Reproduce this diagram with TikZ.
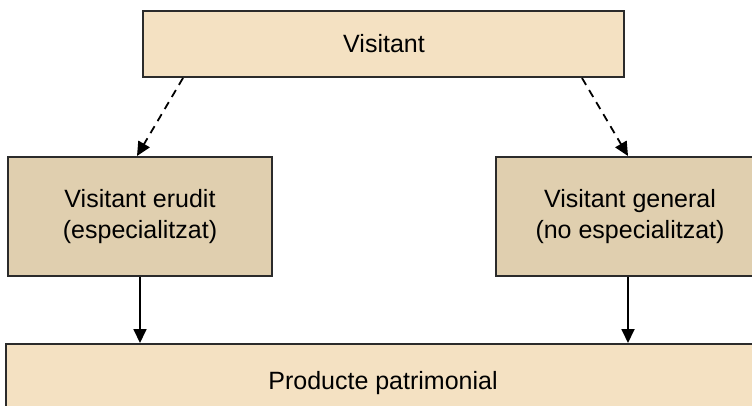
\documentclass[tikz,border=0pt]{standalone}
\usepackage{fontspec}
\setmainfont{Liberation Sans}
\usetikzlibrary{arrows.meta}
\definecolor{lightsand}{HTML}{F4E1C2}
\definecolor{darksand}{HTML}{E0CFAF}
\definecolor{edge}{HTML}{2B2B2B}
\tikzset{
  box/.style={draw=edge, line width=2.2pt, inner sep=0pt, outer sep=0pt},
  lbl/.style={font=\fontsize{25}{31}\selectfont, align=center, text=black},
  link/.style={line width=1.8pt, draw=black, -{Triangle[length=14pt,width=13pt]}},
  dlink/.style={link, dash pattern=on 8pt off 6pt},
}
\begin{document}
\begin{tikzpicture}[x=1pt,y=-1pt]
\useasboundingbox (0,0) rectangle (752,405);
\clip (0,0) rectangle (752,405);
% boxes
\draw[box, fill=lightsand] (143,11) rectangle (624,77);
\draw[box, fill=darksand] (8,157) rectangle (272,276);
\draw[box, fill=darksand] (496,157) rectangle (766,276);
\draw[box, fill=lightsand] (6,344) rectangle (766,420);
% labels
\node[lbl] (top) at (384,44) {Visitant};
\node[lbl] (erudit) at (140,217) {Visitant erudit\\(especialitzat)};
\node[lbl] (general) at (630,217) {Visitant general\\(no especialitzat)};
\node[lbl] (product) at (383,383) {Producte patrimonial};
% connector end points on box borders
\coordinate (tl) at (183,78);
\coordinate (tr) at (582,78);
\coordinate (el) at (137,156);
\coordinate (er) at (628,156);
\coordinate (eb) at (140,277);
\coordinate (gb) at (628,277);
\coordinate (pl) at (140,343);
\coordinate (pr) at (628,343);
% connectors
\draw[dlink] (tl) -- (el);
\draw[dlink] (tr) -- (er);
\draw[link] (eb) -- (pl);
\draw[link] (gb) -- (pr);
\end{tikzpicture}
\end{document}
